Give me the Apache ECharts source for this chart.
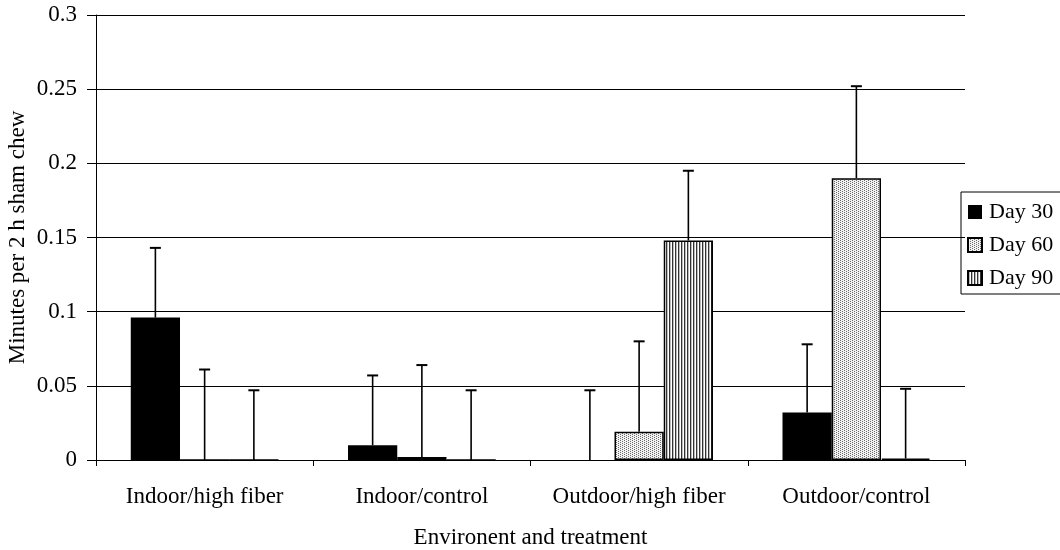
<!DOCTYPE html>
<html>
<head>
<meta charset="utf-8">
<script src="https://cdn.jsdelivr.net/npm/echarts@6/dist/echarts.min.js"></script>
<style>html,body{margin:0;padding:0;background:#fff}#c{width:1060px;height:550px}</style>
</head>
<body>
<div id="c"></div>
<script>
var categories = ['Indoor/high fiber', 'Indoor/control', 'Outdoor/high fiber', 'Outdoor/control'];
var seriesNames = ['Day 30', 'Day 60', 'Day 90'];
var day30 = [0.096, 0.010, 0.000, 0.032];
var day60 = [0.000, 0.002, 0.019, 0.190];
var day90 = [0.000, 0.000, 0.148, 0.001];
var err30 = [0.143, 0.057, 0.047, 0.078];
var err60 = [0.061, 0.064, 0.080, 0.252];
var err90 = [0.047, 0.047, 0.195, 0.048];
var yTicks = [0, 0.05, 0.1, 0.15, 0.2, 0.25, 0.3];

var FONT = '"Liberation Serif", "DejaVu Serif", serif';
var GAP = 0.32;

function makePattern(w, h, fn) {
  var cv = document.createElement('canvas');
  cv.width = w; cv.height = h;
  var ctx = cv.getContext('2d');
  for (var x = 0; x < w; x++) {
    for (var y = 0; y < h; y++) {
      ctx.fillStyle = fn(x, y);
      ctx.fillRect(x, y, 1, 1);
    }
  }
  return { image: cv, repeat: 'repeat' };
}
var stipple = makePattern(4, 2, function (x, y) {
  return ((y === 0 && x === 0) || (y === 1 && x === 2)) ? '#6a6a6a' : '#f2f2f2';
});
var stripes = makePattern(3, 3, function (x, y) { return (x === 0) ? '#333333' : (x === 1 ? '#bbbbbb' : '#ffffff'); });

var means = [day30, day60, day90];
var errs = [err30, err60, err90];
var fills = ['#000000', stipple, stripes];

var series = [];
for (var s = 0; s < 3; s++) {
  series.push({
    name: seriesNames[s],
    type: 'bar',
    data: means[s],
    barGap: '0%',
    barCategoryGap: (GAP * 100) + '%',
    itemStyle: { color: fills[s], borderColor: '#000', borderWidth: s === 0 ? 0 : 1.5 },
    emphasis: { disabled: true },
    z: 2
  });
}
for (var s2 = 0; s2 < 3; s2++) {
  (function (si) {
    var d = [];
    for (var i = 0; i < categories.length; i++) d.push([i, errs[si][i], means[si][i]]);
    series.push({
      name: seriesNames[si] + ' err',
      type: 'custom',
      data: d,
      z: 5,
      renderItem: function (params, api) {
        var ci = api.value(0);
        var top = api.coord([ci, api.value(1)]);
        var base = api.coord([ci, api.value(2)]);
        var band = api.size([1, 0])[0];
        var bw = band * (1 - GAP) / 3;
        var x = base[0] + (si - 1) * bw;
        var st = { stroke: '#000', lineWidth: 1.6 };
        return {
          type: 'group',
          children: [
            { type: 'line', shape: { x1: x, y1: base[1], x2: x, y2: top[1] }, style: st },
            { type: 'line', shape: { x1: x - 5.5, y1: top[1], x2: x + 5.5, y2: top[1] }, style: { stroke: '#000', lineWidth: 2 } }
          ]
        };
      }
    });
  })(s2);
}

var chart = echarts.init(document.getElementById('c'), null, { renderer: 'canvas' });
chart.setOption({
  animation: false,
  backgroundColor: '#fff',
  textStyle: { fontFamily: FONT },
  grid: { left: 96, right: 95, top: 15, bottom: 90, containLabel: false, outerBoundsMode: 'none' },
  legend: {
    data: seriesNames,
    orient: 'vertical',
    left: 961,
    top: 192,
    padding: [9, 20, 5, 6],
    itemGap: 11,
    itemWidth: 14,
    itemHeight: 14,
    icon: 'rect',
    borderColor: '#000',
    borderWidth: 1,
    borderRadius: 0,
    textStyle: { fontFamily: FONT, fontSize: 22, color: '#000', padding: [0, 0, 0, 2] }
  },
  xAxis: {
    type: 'category',
    data: categories,
    name: 'Environent and treatment',
    nameLocation: 'middle',
    nameGap: 66,
    nameMoveOverlap: false,
    nameTextStyle: { fontFamily: FONT, fontSize: 23, color: '#000' },
    axisLine: { lineStyle: { color: '#000', width: 1 } },
    axisTick: { show: true, length: 6, interval: 0, alignWithLabel: false, lineStyle: { color: '#000' } },
    axisLabel: { fontFamily: FONT, fontSize: 23, color: '#000', margin: 25, interval: 0, hideOverlap: false },
    splitLine: { show: false }
  },
  yAxis: {
    type: 'value',
    min: yTicks[0],
    max: yTicks[yTicks.length - 1],
    interval: 0.05,
    name: 'Minutes per 2 h sham chew',
    nameLocation: 'middle',
    nameGap: 67,
    nameMoveOverlap: false,
    nameRotate: 90,
    nameTextStyle: { fontFamily: FONT, fontSize: 23, color: '#000' },
    axisLine: { show: true, lineStyle: { color: '#000', width: 1 } },
    axisTick: { show: true, length: 9, inside: false, lineStyle: { color: '#000' } },
    axisLabel: { fontFamily: FONT, fontSize: 23, color: '#000', margin: 19 },
    splitLine: { show: true, lineStyle: { color: '#000', width: 1.2 } }
  },
  series: series
});
</script>
</body>
</html>
